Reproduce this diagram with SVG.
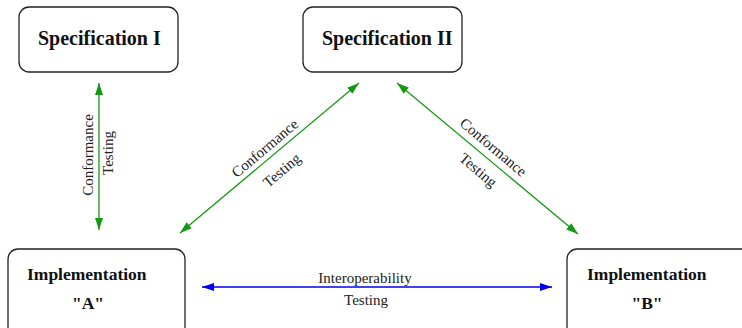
<svg xmlns="http://www.w3.org/2000/svg" width="742" height="328" viewBox="0 0 742 328">
<style>
.box{fill:#fff;stroke:#222;stroke-width:1.3}
.t{font-family:"Liberation Serif","Times New Roman",serif;font-weight:bold;fill:#111}
.lbl{font-family:"Liberation Serif","Times New Roman",serif;font-size:15px;fill:#222;text-anchor:middle}
.g{stroke:#119911;stroke-width:1.3;fill:none}
.b{stroke:#0000ee;stroke-width:1.5;fill:none}
</style>
<defs>
<marker id="ag" markerUnits="userSpaceOnUse" markerWidth="13" markerHeight="9" refX="12" refY="4" orient="auto-start-reverse"><path d="M0,0 L12,4 L0,8 z" fill="#119911"/></marker>
<marker id="ab" markerUnits="userSpaceOnUse" markerWidth="13" markerHeight="9" refX="12" refY="4" orient="auto-start-reverse"><path d="M0,0 L12,4 L0,8 z" fill="#0000ee"/></marker>
</defs>
<g id="spec1"><rect class="box" x="19" y="7" width="159" height="65" rx="10"/><text class="t" x="38" y="45" font-size="20">Specification I</text></g>
<g id="spec2"><rect class="box" x="303" y="7" width="159" height="65" rx="10"/><text class="t" x="322" y="45" font-size="20">Specification II</text></g>
<g id="implA"><rect class="box" x="8" y="249" width="177" height="95" rx="10"/><text class="t" x="27" y="280" font-size="17.5">Implementation</text><text class="t" x="88" y="309" font-size="17.5" text-anchor="middle">"A"</text></g>
<g id="implB"><rect class="box" x="567" y="249" width="190" height="95" rx="10"/><text class="t" x="587" y="280" font-size="17.5">Implementation</text><text class="t" x="647" y="309" font-size="17.5" text-anchor="middle">"B"</text></g>
<g id="connectors">
<line class="g" x1="99" y1="83" x2="99" y2="230" marker-start="url(#ag)" marker-end="url(#ag)"/>
<text class="lbl" x="93" y="155" transform="rotate(-90 93 155)">Conformance</text>
<text class="lbl" x="113" y="153" transform="rotate(-90 113 153)">Testing</text>
<line class="g" x1="180" y1="233" x2="359" y2="83" marker-start="url(#ag)" marker-end="url(#ag)"/>
<text class="lbl" x="268" y="152" transform="rotate(-40 268 152)">Conformance</text>
<text class="lbl" x="285" y="174" transform="rotate(-40 285 174)">Testing</text>
<line class="g" x1="397" y1="83" x2="578" y2="234" marker-start="url(#ag)" marker-end="url(#ag)"/>
<text class="lbl" x="490" y="151" transform="rotate(40 490 151)">Conformance</text>
<text class="lbl" x="475" y="174" transform="rotate(40 475 174)">Testing</text>
<line class="b" x1="202" y1="287" x2="552" y2="287" marker-start="url(#ab)" marker-end="url(#ab)"/>
<text class="lbl" x="365" y="283">Interoperability</text>
<text class="lbl" x="366" y="305">Testing</text>
</g>
</svg>
